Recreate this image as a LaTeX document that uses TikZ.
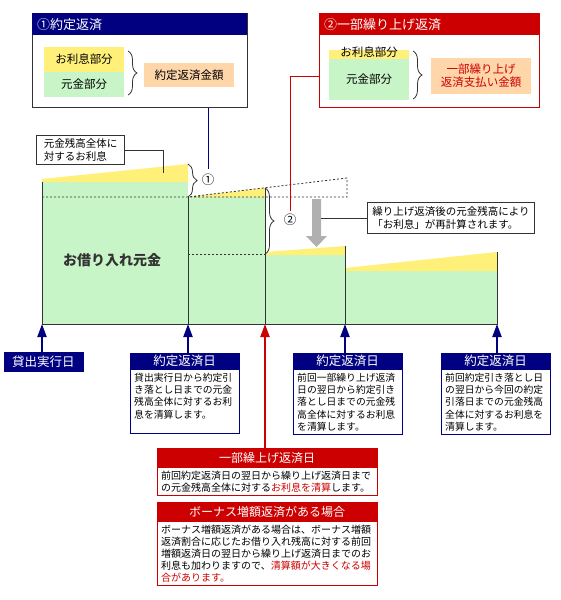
\documentclass[tikz,border=0pt]{standalone}
\usepackage{fontspec}
\setmainfont{Noto Sans CJK JP}
\usetikzlibrary{arrows.meta,positioning,calc,decorations.pathreplacing}
\definecolor{navyhd}{HTML}{000080}
\definecolor{redhd}{HTML}{CC0000}
\definecolor{rimarea}{HTML}{FFF07A}
\definecolor{ganarea}{HTML}{C8F5C8}
\definecolor{gakuarea}{HTML}{FFD5AA}
\definecolor{lineg}{HTML}{333333}
\definecolor{arrowg}{HTML}{B0B0B0}
\tikzset{
  panel/.style={draw=lineg, line width=1pt, minimum height=94pt, anchor=north west},
  panelhead/.style={text=white, minimum height=22pt, inner xsep=5pt, inner ysep=0pt, align=left, anchor=north west, font=\fontsize{13}{15}\selectfont},
  partbox/.style={inner sep=0pt, font=\fontsize{11.5}{13}\selectfont},
  brace/.style={draw=lineg, line width=0.8pt, decorate, decoration={brace, amplitude=9pt}},
  chartline/.style={draw=lineg, line width=1pt},
  dashline/.style={draw=lineg, line width=0.8pt, dash pattern=on 2pt off 2pt},
  callout/.style={draw=lineg, line width=1pt, fill=white, align=left, inner xsep=5pt, font=\fontsize{10.5}{12.5}\selectfont},
  numlabel/.style={inner sep=0pt, font=\fontsize{12.5}{12.5}\selectfont},
  dayhead/.style={fill=navyhd, draw=navyhd, text=white, minimum height=16pt, inner sep=0pt, font=\fontsize{12.5}{14}\selectfont},
  daybody/.style={draw=navyhd, line width=1pt, fill=white, text width=101pt, inner xsep=4pt, inner ysep=3pt, align=left, anchor=north, font=\fontsize{9.8}{12.3}\selectfont},
  dayarrow/.style={navyhd, line width=2pt, -{Triangle[length=13pt, width=9pt]}},
  redhead/.style={fill=redhd, draw=redhd, text=white, minimum width=220pt, minimum height=19pt, inner sep=0pt, anchor=north west, font=\fontsize{12}{14}\selectfont},
  redbody/.style={draw=redhd, line width=1pt, text width=212pt, inner xsep=4pt, inner ysep=3pt, align=left, anchor=north, font=\fontsize{10}{12}\selectfont},
}

\begin{document}
\begin{tikzpicture}[x=1pt, y=-1pt]
  \fill[white] (0,0) rectangle (560,600);
  \useasboundingbox (0,0) rectangle (560,600);

  % Chart areas
  \fill[ganarea] (42,182) rectangle (188,324);
  \fill[ganarea] (188,197) rectangle (265,324);
  \fill[ganarea] (265,255) rectangle (345,324);
  \fill[ganarea] (345,271) rectangle (497,324);
  \fill[rimarea] (42,182) -- (42,179) -- (188,164) -- (188,182) -- cycle;
  \fill[rimarea] (188,197) -- (265,188) -- (265,197) -- cycle;
  \fill[rimarea] (265,255) -- (265,252) -- (345,246) -- (345,255) -- cycle;
  \fill[rimarea] (345,271) -- (345,268) -- (497,252) -- (497,271) -- cycle;

  % Dates on the baseline
  \coordinate (d0) at (42,324);
  \coordinate (d1) at (188,324);
  \coordinate (dk) at (265,324);
  \coordinate (d2) at (345,324);
  \coordinate (d3) at (497,324);

  % Chart lines
  \draw[chartline] (42,182) -- (d0) -- (d3) -- (497,252);
  \draw[chartline] (188,197) -- (d1);
  \draw[chartline] (265,188) -- (dk);
  \draw[chartline] (345,246) -- (d2);
  \draw[dashline] (42,197) -- (347,197) -- (347,178) -- (188,197);
  \draw[dashline] (188,254) -- (265,254);

  % Braces and numbers
  \draw[brace] (188,164) -- (188,197);
  \draw[brace] (265,188) -- (265,254);
  \node[numlabel] (num1) at (208,180) {①};
  \node[numlabel] (num2) at (290,220) {②};

  \node[font=\bfseries\fontsize{14}{16}\selectfont, text=lineg] (gankin) at (112,260) {お借り入れ元金};

  % Gray arrow
  \fill[arrowg] (312,199) -- (321,199) -- (321,236) -- (327,236) -- (316.5,247)
    -- (306,236) -- (312,236) -- cycle;
  \coordinate (garrow) at (321,218);

  % Callouts
  \node[callout, anchor=north west, minimum width=88pt, minimum height=29pt] (note1) at (36,135) {元金残高全体に\\対するお利息};
  \coordinate (note1tip) at (163,173);
  \draw[lineg, line width=1pt] (note1.east) -| (note1tip);
  \node[callout, minimum width=162pt, minimum height=31pt] (note2) at (451,218) {繰り上げ返済後の元金残高により\\「お利息」が再計算されます。};
  \draw[lineg, line width=1pt] (note2.west) -- (garrow);

  % Panel 1
  \node[panel, minimum width=215pt] (pan1) at (32,13) {};
  \node[panelhead, fill=navyhd, text width=205pt] (pan1hd) at (pan1.north west) {①約定返済};
  \node[partbox, fill=rimarea, minimum width=80pt, minimum height=25pt] (ri1) at (84,59.5) {お利息部分};
  \node[partbox, fill=ganarea, minimum width=80pt, minimum height=25pt] (gan1) at (84,84.5) {元金部分};
  \draw[brace] (128,51) -- (128,95);
  \node[partbox, fill=gakuarea, minimum width=90pt, minimum height=24pt] (gaku1) at (189,75) {約定返済金額};
  \draw[navyhd, line width=1pt] (pan1.south -| num1) -- ([yshift=5pt]num1.north);

  % Panel 2
  \node[panel, draw=redhd, minimum width=220pt] (pan2) at (319,13) {};
  \node[panelhead, fill=redhd, text width=210pt] (pan2hd) at (pan2.north west) {②一部繰り上げ返済};
  \fill[rimarea] (329,50) rectangle (409,59);
  \node[partbox, fill=ganarea, minimum width=80pt, minimum height=41pt] (gan2) at (369,79.5) {元金部分};
  \node[partbox] (ri2) at (369,52) {お利息部分};
  \draw[brace] (413,51) -- (413,99);
  \node[partbox, fill=gakuarea, text=redhd, minimum width=100pt, minimum height=36pt, align=center] (gaku2) at (481,76) {一部繰り上げ\\返済支払い金額};
  \draw[redhd, line width=1pt] ($(pan2.south west)+(0,-32)$) -| ([yshift=3pt]num2.north);

  % Date labels
  \node[dayhead, minimum width=79pt, minimum height=19pt] (kashi) at (43.5,361.5) {貸出実行日};
  \node[dayhead, anchor=north west, minimum width=109pt] (yak1) at (130,353) {約定返済日};
  \node[daybody] (yak1b) at (yak1.south) {貸出実行日から約定引\\き落とし日までの元金\\残高全体に対するお利\\息を清算します。\\\mbox{}};
  \node[dayhead, anchor=north west, minimum width=109pt] (yak2) at (293,353) {約定返済日};
  \node[daybody] (yak2b) at (yak2.south) {前回一部繰り上げ返済\\日の翌日から約定引き\\落とし日までの元金残\\高全体に対するお利息\\を清算します。};
  \node[dayhead, anchor=north west, minimum width=109pt] (yak3) at (441,353) {約定返済日};
  \node[daybody] (yak3b) at (yak3.south) {前回約定引き落とし日\\の翌日から今回の約定\\引落日までの元金残高\\全体に対するお利息を\\清算します。};

  \draw[dayarrow] (kashi.north -| d0) -- (d0);
  \draw[dayarrow] (yak1.north -| d1) -- (d1);
  \draw[dayarrow] (yak2.north -| d2) -- (d2);
  \draw[dayarrow] (yak3.north -| d3) -- (d3);

  % Red boxes
  \node[redhead] (kuri) at (157,448) {一部繰上げ返済日};
  \node[redbody] (kurib) at (kuri.south) {前回約定返済日の翌日から繰り上げ返済日まで\\の元金残高全体に対する\textcolor{redhd}{お利息を清算}します。};
  \node[redhead] (bonus) at (157,502) {ボーナス増額返済がある場合};
  \node[redbody] (bonusb) at (bonus.south) {ボーナス増額返済がある場合は、ボーナス増額\\返済割合に応じたお借り入れ残高に対する前回\\増額返済日の翌日から繰り上げ返済日までのお\\利息も加わりますので、\textcolor{redhd}{清算額が大きくなる場}\\\textcolor{redhd}{合があります。}};
  \draw[redhd, line width=2pt, -{Triangle[length=13pt, width=9pt]}] (kuri.north -| dk) -- (dk);

\end{tikzpicture}
\end{document}
